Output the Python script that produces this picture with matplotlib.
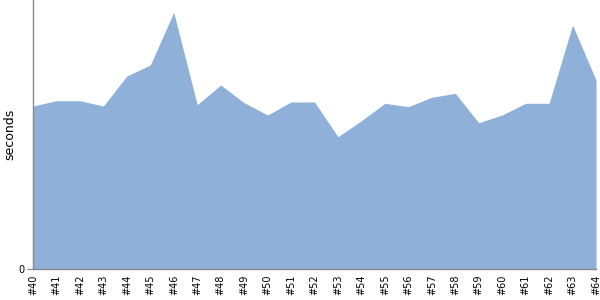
import matplotlib

matplotlib.use("Agg")
import matplotlib.pyplot as plt
import numpy as np

# build labels and durations (seconds)
builds = [f"#{n}" for n in range(40, 65)]
durations = [
    162.7, 168.0, 168.0, 162.7, 192.7, 203.7, 256.4, 164.0, 183.7, 166.0,
    153.7, 166.7, 166.7, 132.0, 148.0, 165.4, 162.0, 171.4, 175.4, 146.0,
    153.7, 165.4, 165.4, 243.7, 188.7,
]
y_top = 268.7

fill_color = "#8fb1d9"
axis_color = "#888888"

fig = plt.figure(figsize=(6, 3), dpi=100)
ax = fig.add_axes([33 / 600, 1 - 268.7 / 300, (596 - 33) / 600, 268.7 / 300])

x = np.arange(len(builds))
ax.fill_between(x, durations, 0, color=fill_color, linewidth=0)

ax.set_xlim(0, len(builds) - 1)
ax.set_ylim(0, y_top)
ax.set_xticks(x)
ax.set_xticklabels(builds, rotation=90, fontsize=7)
ax.set_yticks([0])
ax.set_yticklabels(["0"], fontsize=7)
ax.tick_params(axis="x", length=0, pad=4)
ax.tick_params(axis="y", length=4, width=0.8, color=axis_color, pad=2)
ax.set_ylabel("seconds", fontsize=9)
ax.yaxis.set_label_coords(-0.030, 0.5)

for side in ("top", "right"):
    ax.spines[side].set_visible(False)
for side in ("left", "bottom"):
    ax.spines[side].set_color(axis_color)
    ax.spines[side].set_linewidth(1.0)

fig.savefig("out.png", dpi=100)
